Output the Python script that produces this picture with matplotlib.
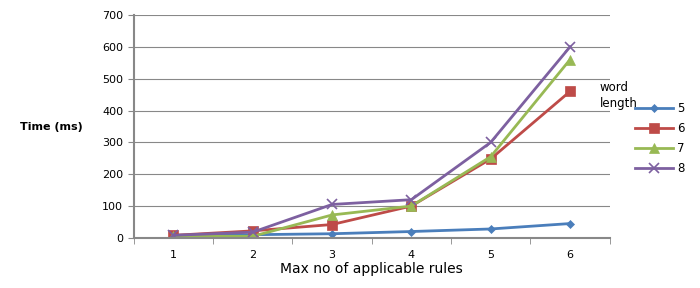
import numpy as np
import matplotlib.pyplot as plt

rules = [1, 2, 3, 4, 5, 6]
len5 = [8, 10, 13, 20, 28, 45]
len6 = [8, 22, 42, 100, 248, 460]
len7 = [5, 5, 72, 100, 255, 560]
len8 = [8, 18, 105, 120, 300, 600]

names = ['5', '6', '7', '8']
colors = ['#4A7EBB', '#BE4B48', '#98B954', '#7D60A0']
markers = ['D', 's', '^', 'x']
msizes = [4.5, 6.5, 6.5, 7]

fig = plt.figure(figsize=(7, 2.88), dpi=100)
ax = fig.add_axes([0.191, 0.174, 0.68, 0.774])

for ys, n, c, m, s in zip([len5, len6, len7, len8], names, colors, markers, msizes):
    ax.plot(rules, ys, color=c, marker=m, markersize=s, linewidth=2, label=n,
            markeredgewidth=1.2 if m == 'x' else 0.5)

ax.set_xlim(0.5, 6.5)
ax.set_ylim(0, 700)
ax.set_yticks(range(0, 701, 100))
ax.set_xticks(rules)
ax.set_xticks(np.arange(0.5, 7, 1), minor=True)
ax.tick_params(axis='x', which='major', length=0, pad=9, labelsize=8)
ax.tick_params(axis='x', which='minor', length=4, direction='out', color='#888888')
ax.tick_params(axis='y', length=4, labelsize=8, color='#888888')
ax.grid(axis='y', color='#888888', linewidth=0.8)
for side in ['top', 'right']:
    ax.spines[side].set_visible(False)
for side in ['left', 'bottom']:
    ax.spines[side].set_color('#888888')
    ax.spines[side].set_linewidth(1.5)

ax.set_xlabel('Max no of applicable rules', fontsize=10, labelpad=1)
fig.text(0.028, 0.56, 'Time (ms)', fontsize=8, fontweight='bold', va='center')

fig.text(600 / 700, 1 - 96 / 288, 'word\nlength', fontsize=8.5, va='center',
         linespacing=1.3)
ax.legend(loc='upper left', bbox_to_anchor=(635 / 700, 1 - 102 / 288),
          bbox_transform=fig.transFigure, frameon=False, fontsize=8.5,
          handlelength=3.2, handletextpad=0.4, labelspacing=0.6,
          borderpad=0, borderaxespad=0)

fig.savefig('out.png', dpi=100)
